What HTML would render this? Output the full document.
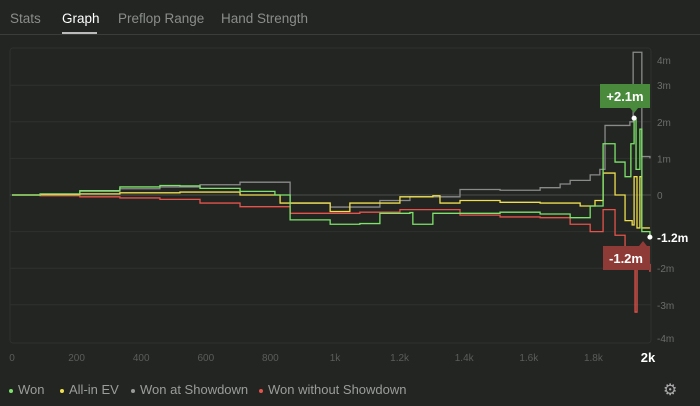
<!DOCTYPE html>
<html><head><meta charset="utf-8"><style>
body{margin:0;width:700px;height:406px;background:#222522;font-family:"Liberation Sans",sans-serif;overflow:hidden;position:relative}
.tab{position:absolute;top:11px;font-size:13.5px;color:#8a8d8a}
.legend{position:absolute;top:382px;font-size:13px;color:#9a9d9a}
.dot{display:inline-block;width:4px;height:4px;border-radius:50%;margin-right:5px;vertical-align:middle}
</style></head><body>
<div class="tab" style="left:10px">Stats</div>
<div class="tab" style="left:62px;color:#fff">Graph</div>
<div style="position:absolute;left:62px;top:32px;width:35px;height:2px;background:#bbb"></div>
<div class="tab" style="left:118px">Preflop Range</div>
<div class="tab" style="left:221px">Hand Strength</div>
<div style="position:absolute;left:0;top:34px;width:700px;height:1px;background:#3a3d3a"></div>
<svg id="chart" width="700" height="406" style="position:absolute;left:0;top:0"></svg>
<div class="legend" style="left:9px"><span class="dot" style="background:#7ee36a"></span>Won</div>
<div class="legend" style="left:60px"><span class="dot" style="background:#f0e050"></span>All-in EV</div>
<div class="legend" style="left:131px"><span class="dot" style="background:#999"></span>Won at Showdown</div>
<div class="legend" style="left:259px"><span class="dot" style="background:#e5534b"></span>Won without Showdown</div>
<div style="position:absolute;left:663px;top:380px;color:#aaa;font-size:16px">⚙</div>
<script>
const xTicks=[0,200,400,600,800,1000,1200,1400,1600,1800,2000];
const xTickLabels=["0","200","400","600","800","1k","1.2k","1.4k","1.6k","1.8k","2k"];
const yTicks=[4,3,2,1,0,-1,-2,-3,-4];
const yTickLabels=["4m","3m","2m","1m","0","-1m","-2m","-3m","-4m"];
const wonH=[0,87,210,334,458,520,582,706,814,861,985,1077,1139,1232,1241,1303,1387,1511,1635,1728,1790,1820,1830,1867,1898,1916,1926,1932,1944,1950,1975];
const wonV=[0,0.03,0.12,0.22,0.26,0.25,0.18,0.1,0,-0.68,-0.8,-0.78,-0.5,-0.48,-0.8,-0.5,-0.5,-0.47,-0.52,-0.62,-0.3,-0.3,1.4,0.9,0.5,1.4,2.1,0.7,1.8,-1.0,-1.15];
const evH=[0,87,210,334,520,706,830,985,1046,1201,1303,1325,1387,1511,1635,1759,1805,1830,1867,1898,1920,1926,1935,1944,1950,1975];
const evV=[0,0.01,0.03,0.06,0.08,0.0,-0.22,-0.45,-0.22,-0.05,-0.02,-0.22,-0.15,-0.2,-0.22,-0.3,-0.15,0.6,0,-0.7,-0.82,0.5,-0.9,0.5,-0.9,-0.9];
const sdH=[0,87,210,334,458,582,706,861,985,1139,1232,1387,1511,1635,1697,1728,1790,1820,1836,1913,1923,1947,1950,1975];
const sdV=[0,0.02,0.1,0.17,0.22,0.28,0.35,-0.22,-0.33,-0.15,-0.05,0.15,0.13,0.2,0.3,0.4,0.55,0.7,1.9,2.0,3.9,3.9,1.05,1.0];
const nsdH=[0,87,210,334,458,582,706,861,1077,1201,1387,1511,1635,1728,1790,1830,1867,1898,1920,1929,1935,1975];
const nsdV=[0,-0.02,-0.05,-0.08,-0.12,-0.22,-0.32,-0.5,-0.47,-0.4,-0.55,-0.6,-0.62,-0.8,-1.0,-0.4,-1.1,-1.8,-1.9,-3.2,-1.9,-2.1];
const svg=document.getElementById('chart');
const NS='http://www.w3.org/2000/svg';
const L=12,R=658,Y0=195,PY=36.6;
function xs(h){return L+h*(R-L)/2000}
function ys(v){return Y0-v*PY}
function mk(t,a){const e=document.createElementNS(NS,t);for(const k in a)e.setAttribute(k,a[k]);svg.appendChild(e);return e}
const frame=mk('rect',{x:10,y:48,width:641,height:295,rx:3,fill:'none',stroke:'#2e312e'});


yTicks.forEach((v,i)=>{
 if(Math.abs(v)<4){const g=mk('line',{x1:10,x2:651,y1:ys(v),y2:ys(v),stroke:v===0?'#4a4d4a':'#2e312e'});
 
 }
 if(v===-1)return;
 let yy=v===4?60:v===-4?338:ys(v);
 const t=mk('text',{x:657,y:yy+4,fill:'#6a6d6a','font-size':10});t.textContent=yTickLabels[i];
 
 
});
xTicks.forEach((h,i)=>{
 const last=i===xTicks.length-1;
 const t=mk('text',{x:last?648:xs(h),y:last?362:361,fill:last?'#fff':'#5a5d5a','font-size':last?13:10,'font-weight':last?'bold':'normal','text-anchor':'middle'});
 t.textContent=xTickLabels[i];
 
 
});
function series(H,V,c,name){
 let d='M'+xs(H[0])+','+ys(V[0]);
 for(let i=1;i<H.length;i++){d+='H'+xs(H[i])+'V'+ys(V[i]);}
 const p=mk('path',{d:d,fill:'none',stroke:c,'stroke-width':1.3});
 
 
}
series(sdH,sdV,'#8a8a8a','won-at-showdown-line');
series(nsdH,nsdV,'#e5534b','won-without-showdown-line');
series(evH,evV,'#eedf4f','allin-ev-line');
series(wonH,wonV,'#7ee36a','won-line');
const maxI=wonV.indexOf(Math.max(...wonV));
const mx=xs(wonH[maxI]),my=ys(wonV[maxI]);
mk('circle',{cx:mx,cy:my,r:2.5,fill:'#fff'});
const gb=mk('path',{d:`M600,84h50v24h-${650-mx-4}l-4,5l-4,-5h-${mx-4-600}z`,fill:'#4a8a3c'});


const gt=mk('text',{x:625,y:101,fill:'#fff','font-size':13,'font-weight':'bold','text-anchor':'middle'});gt.textContent='+2.1m';
const lx=xs(wonH[wonH.length-1]),ly=ys(wonV[wonV.length-1]);
mk('circle',{cx:lx,cy:ly,r:2.5,fill:'#fff'});
const lt=mk('text',{x:657,y:ly+5,fill:'#fff','font-size':12,'font-weight':'bold'});lt.textContent='-1.2m';


const rb=mk('path',{d:`M603,246h36l4,-5l4,5h3v24h-47z`,fill:'#8e3a36'});


const rt=mk('text',{x:626,y:263,fill:'#fff','font-size':13,'font-weight':'bold','text-anchor':'middle'});rt.textContent='-1.2m';
</script>
</body></html>
